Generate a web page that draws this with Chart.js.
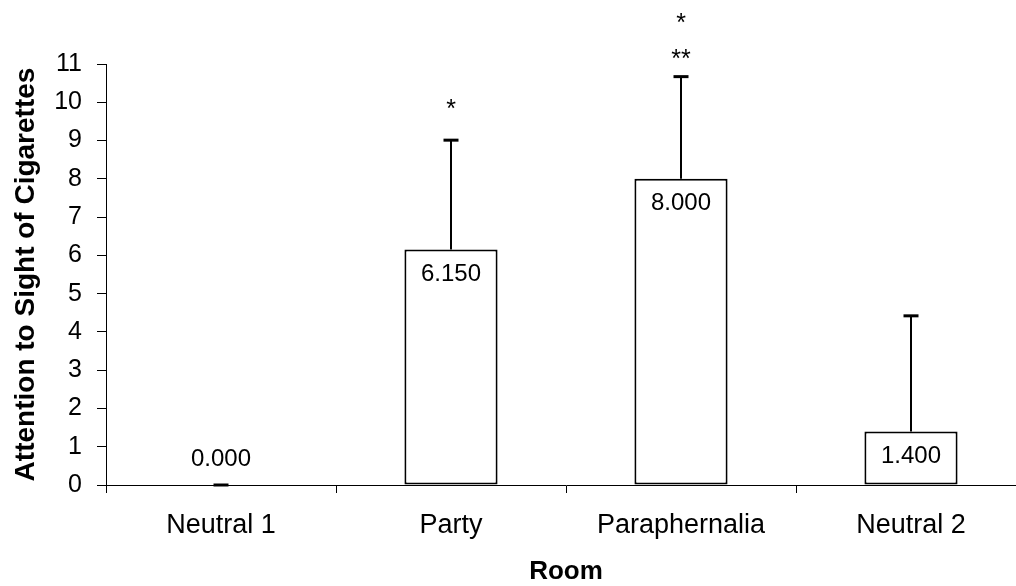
<!DOCTYPE html>
<html>
<head>
<meta charset="utf-8">
<script src="https://cdn.jsdelivr.net/npm/chart.js@4/dist/chart.umd.min.js"></script>
<style>
    html, body { margin: 0; padding: 0; background: #fff; overflow: hidden; }
</style>
</head>
<body>
<canvas id="roomChart" width="1030" height="586"></canvas>
<script>
// data
var rooms = ['Neutral 1', 'Party', 'Paraphernalia', 'Neutral 2'];
var means = [0, 6.15, 8.0, 1.4];
var errorsUp = [0, 2.86, 2.67, 3.02];
var yTicks = [0, 1, 2, 3, 4, 5, 6, 7, 8, 9, 10, 11];
// significance marks and the level (in axis units) where each one sits
var marks = [[], ['*'], ['**', '*'], []];
var markLevels = [[], [10], [11.3, 12.25], []];

var FONT = "'Liberation Sans', Arial, sans-serif";

var barExtras = {
    id: 'barExtras',
    afterDatasetsDraw: function (chart) {
        var ctx = chart.ctx;
        var yScale = chart.scales.y;
        var meta = chart.getDatasetMeta(0);
        ctx.save();
        ctx.strokeStyle = '#000';
        ctx.fillStyle = '#000';

        meta.data.forEach(function (bar, i) {
            var x = bar.x;
            var top = yScale.getPixelForValue(means[i] + errorsUp[i]);

            // error bar (upper only)
            ctx.lineWidth = 2;
            ctx.beginPath();
            ctx.moveTo(x, bar.y);
            ctx.lineTo(x, top);
            ctx.stroke();
            ctx.lineWidth = 3;
            ctx.beginPath();
            ctx.moveTo(x - 7.5, top);
            ctx.lineTo(x + 7.5, top);
            ctx.stroke();

            // value label
            ctx.font = '24px ' + FONT;
            ctx.textAlign = 'center';
            ctx.textBaseline = 'middle';
            var ly = means[i] > 0 ? bar.y + 25 : bar.y - 26;
            ctx.fillText(means[i].toFixed(3), x, ly);

            // asterisks
            ctx.textBaseline = 'alphabetic';
            ctx.font = '25px ' + FONT;
            marks[i].forEach(function (m, k) {
                var my = yScale.getPixelForValue(markLevels[i][k]);
                ctx.fillText(m, x, my + 0.575 * 25);
            });
        });
        ctx.restore();
    }
};

new Chart(document.getElementById('roomChart').getContext('2d'), {
    type: 'bar',
    data: {
        labels: rooms,
        datasets: [{
            data: means,
            backgroundColor: '#ffffff',
            borderColor: '#000000',
            borderWidth: 2,
            borderSkipped: false,
            barPercentage: 0.405,
            categoryPercentage: 1.0
        }]
    },
    options: {
        responsive: false,
        animation: false,
        layout: { padding: { left: 0, top: 64, right: 4, bottom: 0 } },
        plugins: {
            legend: { display: false },
            tooltip: { enabled: false }
        },
        scales: {
            x: {
                afterFit: function (scale) { scale.height = 101; },
                grid: {
                    offset: true,
                    drawOnChartArea: false,
                    drawTicks: true,
                    tickLength: 8,
                    tickColor: '#000'
                },
                border: { color: '#000', width: 1 },
                ticks: {
                    color: '#000',
                    padding: 16,
                    maxRotation: 0,
                    font: { family: FONT, size: 27 }
                },
                title: {
                    display: true,
                    text: 'Room',
                    color: '#000',
                    padding: { top: 0, bottom: 0 },
                    font: { family: FONT, size: 26, weight: 'bold', lineHeight: 1.1 }
                }
            },
            y: {
                min: 0,
                max: 11,
                afterFit: function (scale) { scale.width = 106; },
                afterBuildTicks: function (scale) {
                    scale.ticks = yTicks.map(function (v) { return { value: v }; });
                },
                grid: {
                    drawOnChartArea: false,
                    drawTicks: true,
                    tickLength: 9,
                    tickColor: '#000'
                },
                border: { color: '#000', width: 1 },
                ticks: {
                    color: '#000',
                    padding: 15,
                    font: { family: FONT, size: 25 }
                },
                title: {
                    display: true,
                    text: 'Attention to Sight of Cigarettes',
                    color: '#000',
                    padding: { top: 11, bottom: 0 },
                    font: { family: FONT, size: 28, weight: 'bold', lineHeight: 1.1 }
                }
            }
        }
    },
    plugins: [barExtras]
});
</script>
</body>
</html>
